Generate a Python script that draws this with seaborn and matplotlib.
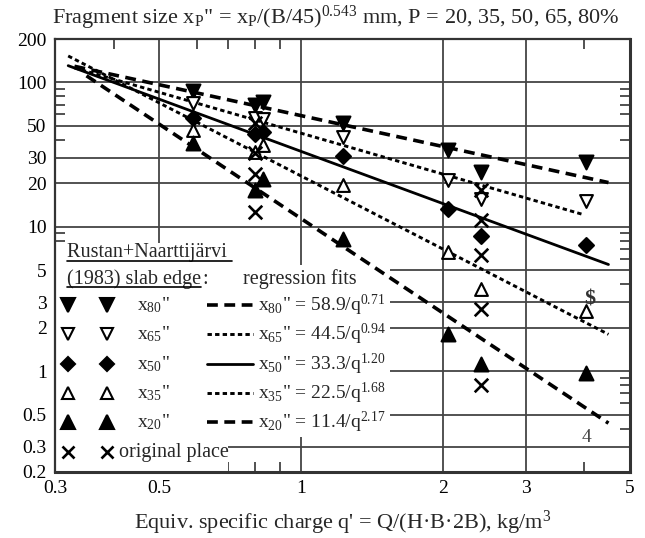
import matplotlib
matplotlib.use("Agg")
import matplotlib.pyplot as plt
import seaborn as sns
from matplotlib.patches import Rectangle
from matplotlib.lines import Line2D
from matplotlib.ticker import FixedLocator, NullFormatter

# Slab-edge fragment sizes x_P'' (mm) against equivalent specific charge q' (kg/m3)
q_slab = [0.59, 0.80, 0.83, 1.23, 2.05, 2.41, 4.03]
x80_slab = [87, 70, 73, 52, 34, 23.8, 27.9]
x65_slab = [72, 56.6, 56, 41.7, 21, 15.6, 15.0]
x50_slab = [57, 44, 45.6, 31, 13.3, 8.7, 7.5]
x35_slab = [47, 33, 37, 19.6, 6.7, 3.7, 2.59]
x20_slab = [38, 18.1, 21.5, 8.2, 1.82, 1.12, 0.97]

# Fragment sizes measured at the original place
q_orig = [0.80, 0.80, 0.80, 0.80, 2.41, 2.41, 2.41, 2.41, 2.41]
x_orig = [52, 32.5, 23.3, 12.6, 17.9, 11.1, 6.4, 2.71, 0.80]

# Regression fits x_P'' = a / q^b and the q-range each one covers
fit_pct = ["80", "65", "50", "35", "20"]
fit_a = [58.9, 44.5, 33.3, 22.5, 11.4]
fit_b = [0.71, 0.94, 1.20, 1.68, 2.17]
fit_q_lo = [0.33, 0.33, 0.32, 0.32, 0.35]
fit_q_hi = [4.5, 4.0, 4.5, 4.5, 4.5]

x_ticks = [0.3, 0.5, 1, 2, 3, 5]
x_ticklabels = ["0.3", "0.5", "1", "2", "3", "5"]
x_minor = [0.4, 0.6, 0.7, 0.8, 0.9, 4]
y_ticks = [0.2, 0.3, 0.5, 1, 2, 3, 5, 10, 20, 30, 50, 100, 200]
y_ticklabels = ["0.2", "0.3", "0.5", "1", "2", "3", "5", "10", "20", "30", "50", "100", "200"]
y_minor = [0.4, 0.6, 0.7, 0.8, 0.9, 4, 6, 7, 8, 9, 40, 60, 70, 80, 90]

sns.set_theme(style="ticks")
plt.rcParams["font.family"] = ["Liberation Serif", "DejaVu Serif"]
plt.rcParams["mathtext.fontset"] = "custom"
plt.rcParams["mathtext.rm"] = "Liberation Serif"
plt.rcParams["mathtext.it"] = "Liberation Serif:italic"
plt.rcParams["mathtext.bf"] = "Liberation Serif:bold"

FS = 14
fig = plt.figure(figsize=(6.45, 5.38), dpi=100)
ax = fig.add_axes([55 / 645, 66 / 538, 575 / 645, 433 / 538])
ax.set_xscale("log")
ax.set_yscale("log")

# marker style per percentile: (marker, filled, size)
styles = {
    "80": ("v", True, 100),
    "65": ("v", False, 85),
    "50": ("D", True, 58),
    "35": ("^", False, 85),
    "20": ("^", True, 100),
}
series = {"80": x80_slab, "65": x65_slab, "50": x50_slab, "35": x35_slab, "20": x20_slab}

for p, vals in series.items():
    m, filled, s = styles[p]
    sns.scatterplot(x=q_slab, y=vals, ax=ax, marker=m, s=s,
                    color="black" if filled else "white",
                    edgecolor="black", linewidth=1.5, zorder=5)

sns.scatterplot(x=q_orig, y=x_orig, ax=ax, marker="x", s=95, color="black",
                linewidth=1.9, zorder=5)

long_dash = (0, (3.0, 1.8))
short_dash = (0, (1.5, 1.1))
line_styles = {
    "80": (long_dash, 2.6),
    "65": (short_dash, 2.1),
    "50": ("-", 2.0),
    "35": (short_dash, 2.1),
    "20": (long_dash, 2.6),
}
for p, a, b, lo, hi in zip(fit_pct, fit_a, fit_b, fit_q_lo, fit_q_hi):
    ls, lw = line_styles[p]
    sns.lineplot(x=[lo, hi], y=[a / lo ** b, a / hi ** b], ax=ax, color="black",
                 linestyle=ls, linewidth=lw, zorder=4, sort=False)

ax.set_xlim(0.3, 5)
ax.set_ylim(0.2, 200)
ax.set_xticks(x_ticks)
ax.set_xticklabels(x_ticklabels)
ax.set_yticks(y_ticks)
ax.set_yticklabels(y_ticklabels)
ax.xaxis.set_minor_locator(FixedLocator(x_minor))
ax.yaxis.set_minor_locator(FixedLocator(y_minor))
ax.xaxis.set_minor_formatter(NullFormatter())
ax.yaxis.set_minor_formatter(NullFormatter())
ax.tick_params(which="major", length=0, labelsize=FS, colors="black", pad=6)
ax.tick_params(which="minor", length=7, width=1.2, direction="in",
               top=True, right=True, bottom=True, left=True, color="#333333")
ax.grid(which="major", color="#444444", linewidth=1.3)
ax.set_axisbelow(True)
for side, sp in ax.spines.items():
    sp.set_visible(True)
    sp.set_color("#333333")
    sp.set_linewidth(1.6 if side in ("left", "top") else 2.2)

ax.set_xlabel("Equiv. specific charge q' = Q/(H·B·2B), kg/m$^3$", fontsize=16, labelpad=8)
ax.set_ylabel("")
fig.text(0.52, 0.966,
         'Fragment size x$_\\mathrm{P}$" = x$_\\mathrm{P}$/(B/45)$^{0.543}$ mm, P = 20, 35, 50, 65, 80%',
         ha="center", va="center", fontsize=16)

# legend block on a white ground
def px(xp, yp):
    return (xp - 55) / 575, (472 - yp) / 433

for (x0, y0, x1, y1) in [(55, 243, 228, 471), (56, 265, 390, 437)]:
    ax0, ay1 = px(x0, y0)
    ax1, ay0 = px(x1, y1)
    ax.add_patch(Rectangle((ax0, ay0), ax1 - ax0, ay1 - ay0, transform=ax.transAxes,
                           facecolor="white", edgecolor="none", zorder=1))

tx, ty = px(67, 253)
t1 = ax.text(tx, ty, "Rustan+Naarttijärvi ", transform=ax.transAxes, fontsize=14.5,
             va="center", ha="left", zorder=6)
tx, ty = px(67, 279)
t2 = ax.text(tx, ty, "(1983) slab edge", transform=ax.transAxes, fontsize=14.5,
             va="center", ha="left", zorder=6)
tx, ty = px(243, 279)
ax.text(tx, ty, "regression fits", transform=ax.transAxes, fontsize=14.5,
        va="center", ha="left", zorder=6)

row_y = [305, 334, 364, 393, 422]
for p, a, b, yr in zip(fit_pct, fit_a, fit_b, row_y):
    m, filled, s = styles[p]
    for xm in (68, 107):
        mx, my = px(xm, yr)
        ax.add_artist(Line2D([mx], [my], marker=m, markersize=(s ** 0.5) * 1.0,
                             markerfacecolor="black" if filled else "white",
                             markeredgecolor="black", markeredgewidth=1.5,
                             linestyle="none", transform=ax.transAxes, zorder=6))
    lx, ly = px(137, yr)
    ax.text(lx, ly, 'x$_{%s}$"' % p, transform=ax.transAxes, fontsize=FS,
            va="center", ha="left", zorder=6)
    sx0, sy = px(207, yr)
    sx1, _ = px(253, yr)
    ls, lw = line_styles[p]
    ax.add_artist(Line2D([sx0, sx1], [sy, sy], color="black", linestyle=ls,
                         linewidth=lw, transform=ax.transAxes, zorder=6))
    ex, ey = px(258, yr)
    ax.text(ex, ey, 'x$_{%s}$" = %.1f/q$^{%.2f}$' % (p, a, b), transform=ax.transAxes,
            fontsize=FS, va="center", ha="left", zorder=6)

for xm in (68, 107):
    mx, my = px(xm, 452)
    ax.add_artist(Line2D([mx], [my], marker="x", markersize=8.5, markeredgewidth=1.9,
                         color="black", linestyle="none", transform=ax.transAxes, zorder=6))
ox, oy = px(119, 452)
ax.text(ox, oy, "original place", transform=ax.transAxes, fontsize=14.5,
        va="center", ha="left", zorder=6)

# stray annotation marks near the right edge
sx, sy = px(590, 300)
ax.text(sx, sy, r"\$", transform=ax.transAxes, fontsize=16, ha="center", va="center",
        color="#333333", fontweight="bold", zorder=6)
fx, fy = px(587, 437)
ax.text(fx, fy, "4", transform=ax.transAxes, fontsize=FS, ha="center", va="center",
        color="#444444", zorder=6)

# underline the source heading
fig.canvas.draw()
inv = fig.transFigure.inverted()
for t in (t1, t2):
    bb = t.get_window_extent()
    (x0, y0), (x1, _) = inv.transform([(bb.x0, bb.y0 + 1.5), (bb.x1, bb.y0 + 1.5)])
    fig.add_artist(Line2D([x0, x1], [y0, y0], color="black", linewidth=1.2,
                          transform=fig.transFigure, zorder=7))
bb = t2.get_window_extent()
cx, cy = ax.transAxes.inverted().transform((bb.x1 + 1, (bb.y0 + bb.y1) / 2))
ax.text(cx, cy, ":", transform=ax.transAxes, fontsize=14.5, va="center", ha="left", zorder=6)

fig.savefig("out.png", dpi=100)
